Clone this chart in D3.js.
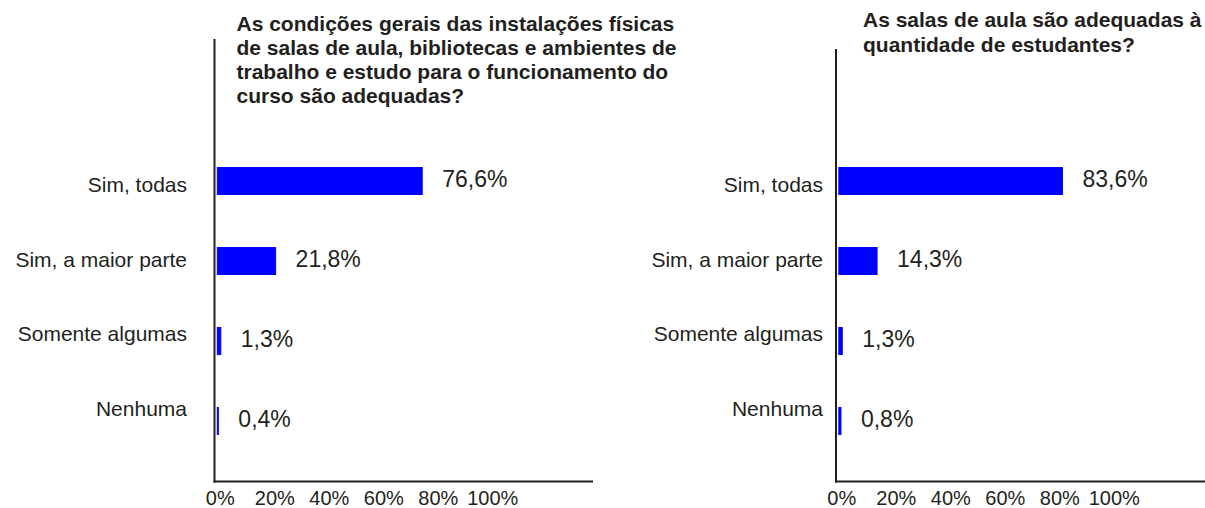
<!DOCTYPE html>
<html>
<head>
<meta charset="utf-8">
<script src="https://cdn.jsdelivr.net/npm/d3@7/dist/d3.min.js"></script>
<style>
  html, body { margin: 0; padding: 0; background: #ffffff; }
  svg { display: block; }
  text { font-family: "Liberation Sans", Arial, Helvetica, sans-serif; fill: #231f20; }
</style>
</head>
<body>
<div id="chart"></div>
<script>
// ---- data ----
const categories = ["Sim, todas", "Sim, a maior parte", "Somente algumas", "Nenhuma"];
const valuesLeft = [76.6, 21.8, 1.3, 0.4];
const valuesRight = [83.6, 14.3, 1.3, 0.8];
const labelsLeft = ["76,6%", "21,8%", "1,3%", "0,4%"];
const labelsRight = ["83,6%", "14,3%", "1,3%", "0,8%"];
const tickValues = [0, 20, 40, 60, 80, 100];
const tickLabels = ["0%", "20%", "40%", "60%", "80%", "100%"];
const titleLeft = [
  "As condições gerais das instalações físicas",
  "de salas de aula, bibliotecas e ambientes de",
  "trabalho e estudo para o funcionamento do",
  "curso são adequadas?"
];
const titleRight = [
  "As salas de aula são adequadas à",
  "quantidade de estudantes?"
];

const W = 1205, H = 508;
const svg = d3.select("#chart").append("svg")
  .attr("width", W).attr("height", H);

const panels = [
  { axisX: 214.5, axisTop: 39, axisEnd: 593, labelRight: 187, titleX: 236.5, titleY: 30.5,
    values: valuesLeft, labels: labelsLeft, title: titleLeft },
  { axisX: 836, axisTop: 49, axisEnd: 1205, labelRight: 823, titleX: 863, titleY: 27.3,
    values: valuesRight, labels: labelsRight, title: titleRight }
];

const axisY = 481.5;

panels.forEach(p => {
  const g = svg.append("g");
  const x0 = p.axisX + 2.8;
  const x = d3.scaleLinear().domain([0, 100]).range([x0, x0 + 267.5]);
  const y = d3.scaleBand().domain(categories).range([141, 461]).paddingInner(0.65).paddingOuter(0.325);
  // category label positions (slightly compressed relative to bars, as in the source)
  const yLab = d3.scalePoint().domain(categories).range([184.5, 408]);
  const xTick = d3.scaleLinear().domain([0, 100]).range([x0 + 2.5, x0 + 275]);

  // bars
  g.selectAll("rect.bar").data(p.values).enter().append("rect")
    .attr("class", "bar")
    .attr("x", x(0))
    .attr("y", (d, i) => y(categories[i]) + 0.5)
    .attr("width", d => x(d) - x(0))
    .attr("height", y.bandwidth() - 1)
    .attr("fill", "#0000ff")
    .attr("stroke", "#0000ff")
    .attr("stroke-width", 1);

  // value labels
  g.selectAll("text.val").data(p.values).enter().append("text")
    .attr("class", "val")
    .attr("x", d => x(d) + 20)
    .attr("y", (d, i) => y(categories[i]) + y.bandwidth() / 2 + 6)
    .attr("font-size", "23px")
    .text((d, i) => p.labels[i]);

  // category axis (labels only)
  const yAxis = d3.axisLeft(yLab).tickSize(0).tickPadding(0);
  const ya = g.append("g").attr("transform", `translate(${p.labelRight},0)`).call(yAxis);
  ya.select(".domain").remove();
  ya.selectAll("text").attr("font-size", "21px").attr("fill", "#231f20")
    .attr("font-family", "\"Liberation Sans\", Arial, sans-serif").attr("dy", "0.35em");

  // x tick labels
  const xAxis = d3.axisBottom(xTick).tickValues(tickValues).tickSize(0).tickPadding(0)
    .tickFormat((d, i) => tickLabels[i]);
  const xa = g.append("g").attr("transform", `translate(0,${axisY})`).call(xAxis);
  xa.select(".domain").remove();
  xa.selectAll("text").attr("font-size", "20px").attr("fill", "#231f20")
    .attr("font-family", "\"Liberation Sans\", Arial, sans-serif")
    .attr("dy", null).attr("y", 23.5);

  // axis lines
  g.append("line").attr("x1", p.axisX).attr("x2", p.axisX)
    .attr("y1", p.axisTop).attr("y2", axisY + 1)
    .attr("stroke", "#231f20").attr("stroke-width", 2);
  g.append("line").attr("x1", p.axisX - 1).attr("x2", p.axisEnd)
    .attr("y1", axisY).attr("y2", axisY)
    .attr("stroke", "#231f20").attr("stroke-width", 2);

  // title
  const t = g.append("text").attr("x", p.titleX).attr("y", p.titleY)
    .attr("font-size", "21px").attr("font-weight", "bold");
  t.selectAll("tspan").data(p.title).enter().append("tspan")
    .attr("x", p.titleX).attr("dy", (d, i) => i === 0 ? 0 : 24.2)
    .text(d => d);
});
</script>
</body>
</html>
